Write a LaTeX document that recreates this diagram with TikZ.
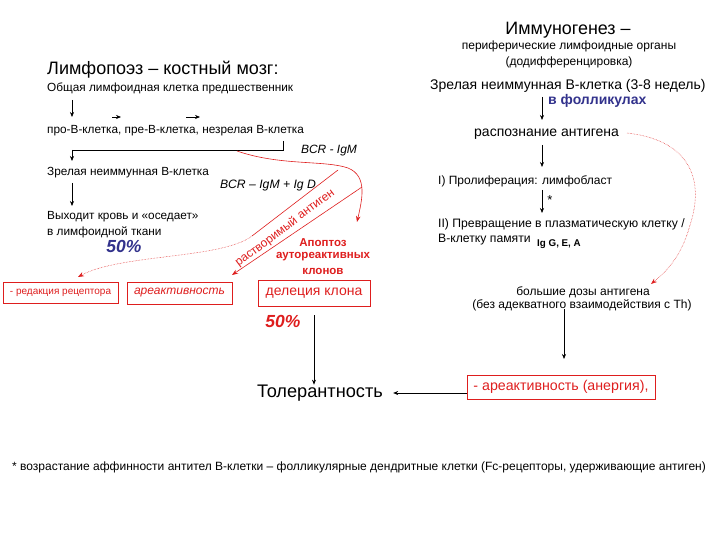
\documentclass[tikz,border=0pt]{standalone}
\usepackage{fontspec}
\setmainfont{Liberation Sans}
\usetikzlibrary{arrows.meta}
\definecolor{myred}{RGB}{222,30,30}
\definecolor{myblue}{RGB}{50,50,140}
\newcommand\fsz[1]{\fontsize{#1}{#1}\selectfont}
\tikzset{
  arr/.style={-{Stealth[length=5pt,width=4pt]}, line width=0.6pt},
  lt/.style={inner sep=0pt, anchor=west},
  ct/.style={inner sep=0pt},
  redbox/.style={draw=myred, line width=0.6pt, text=myred, inner sep=2pt},
  redarr/.style={myred, line width=0.6pt, -{Stealth[length=6pt,width=4.5pt]}},
  reddot/.style={myred, line width=0.5pt, densely dotted, -{Stealth[length=6pt,width=4.5pt]}},
}
\begin{document}
\begin{tikzpicture}[x=1pt,y=-1pt]
\path[use as bounding box] (0,0) rectangle (720,540);

% ---------- left column ----------
\node[lt, font=\fsz{18}] (t1) at (47,70) {Лимфопоэз – костный мозг:};
\node[lt, font=\fsz{11.8}] (a1) at (47,88) {Общая лимфоидная клетка предшественник};
\node[lt, font=\fsz{11.8}] (a2) at (47,131) {про-В-клетка, пре-В-клетка, незрелая В-клетка};
\coordinate (c0) at (72,100);
\coordinate (c1) at (72,117);
\coordinate (s1) at (112,117); \coordinate (s1e) at (121,117);
\coordinate (s2) at (186,117); \coordinate (s2e) at (200,117);
\draw[arr] (c0) -- (c1);
\draw[arr] (s1) -- (s1e);
\draw[arr] (s2) -- (s2e);
\coordinate (k1) at (283,141);
\coordinate (k2) at (283,150);
\coordinate (k3) at (72,150);
\coordinate (k4) at (72,161);
\draw[line width=0.6pt] (k1) -- (k2) -- (k3);
\draw[arr] (k3) -- (k4);
\node[ct, font=\fsz{12}\itshape] (bcr1) at (329,151) {BCR - IgM};
\node[lt, font=\fsz{11.8}] (a3) at (47,173) {Зрелая неиммунная В-клетка};
\node[ct, font=\fsz{12.2}\itshape] (bcr2) at (268,186) {BCR – IgM + Ig D};
\coordinate (d1) at (72,183); \coordinate (d2) at (72,206);
\draw[arr] (d1) -- (d2);
\node[lt, font=\fsz{11.8}] (a4) at (47,217) {Выходит кровь и «оседает»};
\node[lt, font=\fsz{11.8}] (a5) at (47,232) {в лимфоидной ткани};
\node[ct, font=\fsz{17.5}\bfseries\itshape, text=myblue] (p1) at (124,246) {50\%};

% red curves
\coordinate (r0) at (237,151);
\coordinate (r1) at (357,222);
\draw[redarr] (r0) .. controls (280,166) and (325,160) .. (348,168) .. controls (368,176) and (362,200) .. (r1);
\coordinate (u0) at (338,170);
\coordinate (u1) at (252,236);
\coordinate (u2) at (78,277);
\draw[myred, line width=0.6pt] (u0) -- (u1);
\draw[reddot] (u1) .. controls (222,259) and (120,254) .. (u2);
\coordinate (l0) at (362,187);
\coordinate (l1) at (232,275);
\draw[redarr] (l0) -- (l1);
\node[ct, font=\fsz{12}, text=myred, rotate=37] (sol) at (285,228) {растворимый антиген};

\node[ct, font=\fsz{11.5}\bfseries, text=myred] (ap1) at (323,243) {Апоптоз};
\node[ct, font=\fsz{11.5}\bfseries, text=myred] (ap2) at (323,257) {аутореактивных};
\node[ct, font=\fsz{11.5}\bfseries, text=myred] (ap3) at (323,271) {клонов};

\node[redbox, font=\fsz{10}, minimum width=115, minimum height=21] (b1) at (60.5,292.5) {- редакция рецептора};
\node[redbox, font=\fsz{12}\itshape, minimum width=105, minimum height=22] (b2) at (179.5,293) {ареактивность};
\node[redbox, font=\fsz{14}, minimum width=112, minimum height=26] (b3) at (314,293) {делеция клона};
\node[ct, font=\fsz{17.5}\bfseries\itshape, text=myred] (p2) at (283,321) {50\%};

\node[ct, font=\fsz{18.2}] (tol) at (320,393) {Толерантность};
\draw[arr] ([yshift=-9pt]b3.south) -- (b3.south |- tol.north);

% ---------- right column ----------
\node[ct, font=\fsz{17.9}] (i1) at (568,30) {Иммуногенез –};
\node[ct, font=\fsz{12}] (i2) at (569,46) {периферические лимфоидные органы};
\node[ct, font=\fsz{12}] (i3) at (569,62) {(додифференцировка)};
\node[lt, font=\fsz{14}] (i4) at (430,86) {Зрелая неиммунная В-клетка (3-8 недель)};
\node[lt, font=\fsz{14}\bfseries, text=myblue] (i5) at (548,101) {в фолликулах};
\coordinate (e1) at (542,97); \coordinate (e2) at (542,120);
\draw[arr] (e1) -- (e2);
\node[lt, font=\fsz{14}] (i6) at (474,134) {распознание антигена};
\coordinate (e3) at (542,145); \coordinate (e4) at (542,167);
\draw[arr] (e3) -- (e4);
\node[lt, font=\fsz{12}] (i7) at (438,181) {I) Пролиферация: лимфобласт};
\coordinate (e5) at (542,190); \coordinate (e6) at (542,213);
\draw[arr] (e5) -- (e6);
\node[ct, font=\fsz{13}] (star) at (550,200) {*};
\node[lt, font=\fsz{12.2}] (i8) at (438,224) {II) Превращение в плазматическую клетку /};
\node[lt, font=\fsz{12.2}] (i9) at (438,240) {В-клетку памяти};
\node[lt, font=\fsz{9.8}\bfseries] (i10) at (537,244) {Ig G, E, A};

\coordinate (f0) at (627,133);
\coordinate (f1) at (651,284);
\draw[reddot] (f0) .. controls (690,140) and (705,180) .. (690,225) .. controls (682,255) and (668,270) .. (f1);

\node[ct, font=\fsz{12}] (i11) at (583,292) {большие дозы антигена};
\node[ct, font=\fsz{12}] (i12) at (582,305) {(без адекватного взаимодействия с Th)};
\coordinate (g1) at (564,309); \coordinate (g2) at (564,359);
\draw[arr] (g1) -- (g2);
\node[redbox, font=\fsz{14.2}, minimum width=188, minimum height=24] (b4) at (561,387) {- ареактивность (анергия),};
\draw[arr] (b4.west |- tol.east) -- ([xshift=10pt]tol.east);

% footnote
\node[ct, font=\fsz{12}] (fn) at (359,467) {* возрастание аффинности антител В-клетки – фолликулярные дендритные клетки (Fc-рецепторы, удерживающие антиген)};
\end{tikzpicture}
\end{document}
